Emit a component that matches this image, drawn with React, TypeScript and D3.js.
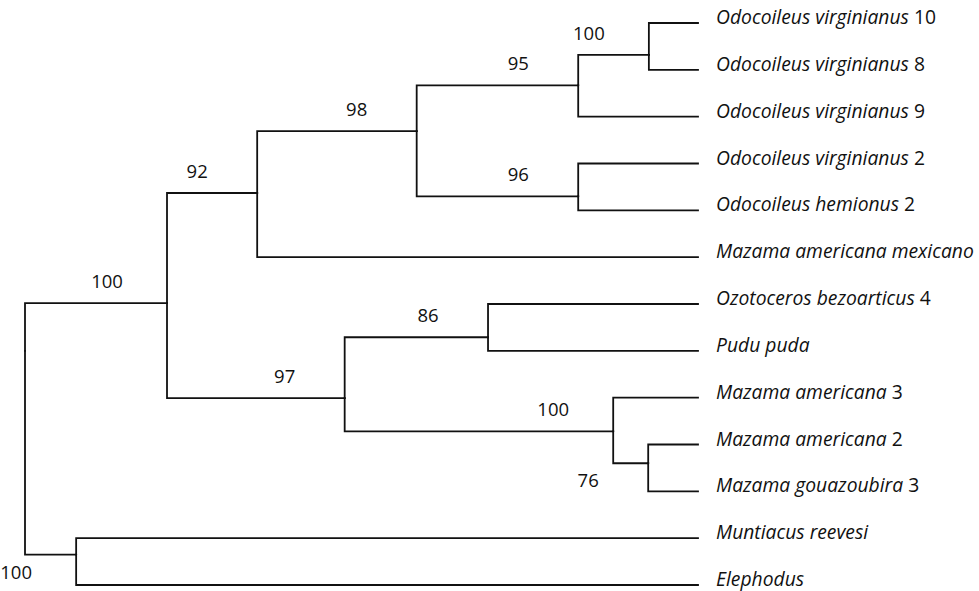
import React, { useEffect, useRef } from "react";
import * as d3 from "d3";

// leaf taxa, top to bottom (italic part + plain suffix)
const leafNames = [
  "Odocoileus virginianus",
  "Odocoileus virginianus",
  "Odocoileus virginianus",
  "Odocoileus virginianus",
  "Odocoileus hemionus",
  "Mazama americana mexicano",
  "Ozotoceros bezoarticus",
  "Pudu puda",
  "Mazama americana",
  "Mazama americana",
  "Mazama gouazoubira",
  "Muntiacus reevesi",
  "Elephodus",
];
const leafSuffix = ["10", "8", "9", "2", "2", "", "4", "", "3", "2", "3", "", ""];
const leafParent = ["E", "E", "D", "F", "F", "B", "H", "H", "I", "J", "J", "M", "M"];

// internal nodes: id, parent, depth (0 = root, 1 = tips), row (in leaf rows), bootstrap
const nodeIds = ["root", "A", "B", "C", "D", "E", "F", "G", "H", "I", "J", "M"];
const nodeParent = ["", "root", "A", "B", "C", "D", "C", "A", "G", "G", "I", "root"];
const nodeDepth = [0, 0.211, 0.345, 0.582, 0.822, 0.927, 0.822, 0.475, 0.688, 0.874, 0.926, 0.076];
const nodeRow = [7, 5.98, 3.63, 2.31, 1.33, 0.68, 3.7, 8.01, 6.71, 8.72, 9.4, 11.35];
const support = ["", "100", "92", "98", "95", "100", "96", "97", "86", "100", "76", "100"];
const supportBelow = ["J", "M"];

type Row = { id: string; parentId: string; depth: number; row: number; label?: string; suffix?: string; support?: string };

const W = 979;
const H = 591;

const App: React.FC = () => {
  const svgRef = useRef<SVGSVGElement | null>(null);

  useEffect(() => {
    const rows: Row[] = [
      ...nodeIds.map((id, i) => ({
        id,
        parentId: nodeParent[i],
        depth: nodeDepth[i],
        row: nodeRow[i],
        support: support[i],
      })),
      ...leafNames.map((name, i) => ({
        id: "leaf" + i,
        parentId: leafParent[i],
        depth: 1,
        row: i,
        label: name,
        suffix: leafSuffix[i],
      })),
    ];

    const root = d3
      .stratify<Row>()
      .id((d) => d.id)
      .parentId((d) => d.parentId || null)(rows);

    const x = d3.scaleLinear().domain([0, 1]).range([25, 698]);
    const y = d3.scaleLinear().domain([0, 12]).range([23, 585]);

    const svg = d3.select(svgRef.current);
    svg.selectAll("*").remove();

    // elbow links
    svg
      .append("g")
      .selectAll("path")
      .data(root.links())
      .enter()
      .append("path")
      .attr(
        "d",
        (l) =>
          `M${x(l.source.data.depth)},${y(l.source.data.row)}V${y(l.target.data.row)}H${x(l.target.data.depth)}`
      )
      .attr("fill", "none")
      .attr("stroke", "#111")
      .attr("stroke-width", 1.8)
      .attr("stroke-linecap", "square");

    // bootstrap values
    svg
      .append("g")
      .selectAll("text")
      .data(root.descendants().filter((d) => d.data.support))
      .enter()
      .append("text")
      .attr("x", (d) => x(d.data.depth) - 60)
      .attr("y", (d) =>
        supportBelow.includes(d.data.id) ? y(d.data.row) + 24 : y(d.data.row) - 15
      )
      .attr("text-anchor", "middle")
      .style("font-family", "'Open Sans', sans-serif")
      .style("font-size", "18.5px")
      .attr("fill", "#111")
      .text((d) => d.data.support!);

    // tip labels
    const tips = svg
      .append("g")
      .selectAll("text")
      .data(root.leaves())
      .enter()
      .append("text")
      .attr("x", 716)
      .attr("y", (d) => y(d.data.row) + 1)
      .style("font-family", "'Open Sans', sans-serif")
      .style("font-size", "19.3px")
      .attr("fill", "#111");
    tips
      .append("tspan")
      .style("font-style", "italic")
      .text((d) => d.data.label!);
    tips
      .append("tspan")
      .text((d) => (d.data.suffix ? " " + d.data.suffix : ""));
  }, []);

  return (
    <svg
      ref={svgRef}
      width={W}
      height={H}
      style={{ position: "absolute", left: 0, top: 0, background: "#fff" }}
    ></svg>
  );
};

export default App;
